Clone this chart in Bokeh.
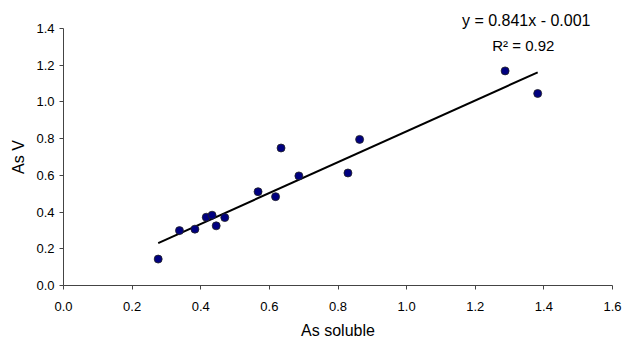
from bokeh.plotting import figure
from bokeh.models import Range1d, FixedTicker, Label, Title
from bokeh.embed import file_html
from bokeh.resources import INLINE

# Measured arsenic: soluble vs. As(V)
as_soluble = [0.276, 0.338, 0.383, 0.416, 0.433, 0.445, 0.470, 0.567, 0.618,
              0.634, 0.686, 0.829, 0.863, 1.287, 1.382]
as_v = [0.144, 0.299, 0.307, 0.372, 0.383, 0.325, 0.370, 0.511, 0.484,
        0.749, 0.597, 0.613, 0.796, 1.169, 1.046]

# Linear trend
slope = 0.841
intercept = -0.001
r_squared = 0.92

x_ticks = [0.0, 0.2, 0.4, 0.6, 0.8, 1.0, 1.2, 1.4, 1.6]
y_ticks = [0.0, 0.2, 0.4, 0.6, 0.8, 1.0, 1.2, 1.4]

FONT = "Liberation Sans"

p = figure(width=623, height=341, output_backend="svg", toolbar_location=None,
           x_range=Range1d(0, 1.6), y_range=Range1d(0, 1.4),
           min_border_left=63, min_border_right=11,
           min_border_top=28, min_border_bottom=55)
p.outline_line_color = None
p.grid.visible = False
p.background_fill_color = "white"

for ax in (p.xaxis[0], p.yaxis[0]):
    ax.major_label_text_font = FONT
    ax.major_label_text_font_size = "13px"
    ax.major_label_text_color = "black"
    ax.axis_label_text_font = FONT
    ax.axis_label_text_font_size = "16px"
    ax.axis_label_text_font_style = "normal"
    ax.axis_label_text_color = "black"
    ax.axis_line_color = "#444444"
    ax.major_tick_line_color = "#444444"
    ax.major_tick_out = 4
    ax.major_tick_in = 0
    ax.minor_tick_line_color = None

p.xaxis.ticker = FixedTicker(ticks=x_ticks)
p.yaxis.ticker = FixedTicker(ticks=y_ticks)
p.xaxis.major_label_overrides = {t: f"{t:.1f}" for t in x_ticks}
p.yaxis.major_label_overrides = {t: f"{t:.1f}" for t in y_ticks}
p.xaxis.axis_label = "As soluble"
p.yaxis.axis_label = "As V"
p.xaxis.major_label_standoff = 12
p.yaxis.major_label_standoff = 5
p.xaxis.axis_label_standoff = 8
p.yaxis.axis_label_standoff = 6

# trend line across the data span
x0, x1 = min(as_soluble), max(as_soluble)
p.line([x0, x1], [slope * x0 + intercept, slope * x1 + intercept],
       line_color="black", line_width=2)

p.scatter(as_soluble, as_v, size=8, fill_color="#000080",
          line_color="#222222", line_width=0.8)

# regression equation sits above the plot frame
p.add_layout(Title(text=f"y = {slope:.3f}x - {abs(intercept):.3f}",
                   align="right", offset=22, standoff=0,
                   text_font=FONT, text_font_size="16px",
                   text_font_style="normal", text_color="black"), "above")
p.add_layout(Label(x=1.34, y=1.31,
                   text=f"R² = {r_squared:.2f}",
                   text_font=FONT, text_font_size="15px", text_align="center",
                   text_baseline="middle", text_color="black"))

open("out.html", "w").write(file_html(p, INLINE))
